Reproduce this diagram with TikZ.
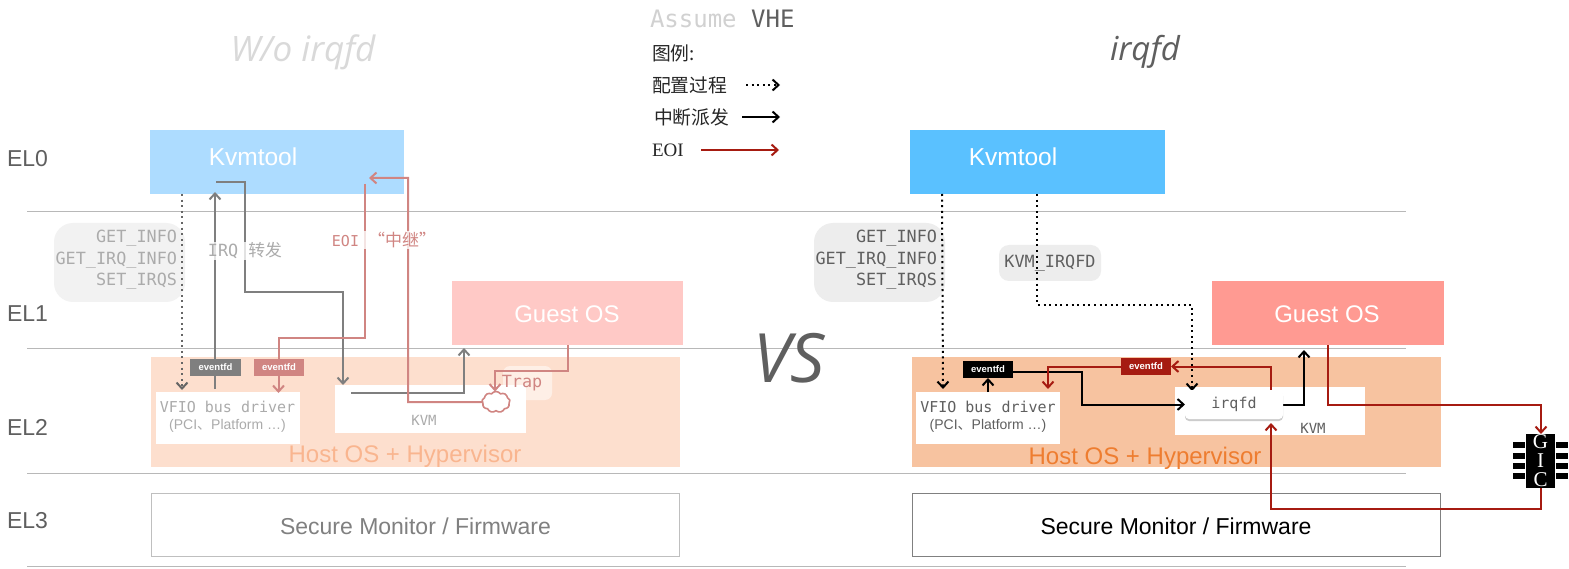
\documentclass[tikz,border=0pt]{standalone}
\usepackage{fontspec}
\setmainfont{Liberation Sans}
\setmonofont{DejaVu Sans Mono}
\newfontfamily\cjk{Noto Sans CJK SC}
\newfontfamily\serifl{Liberation Serif}
\newfontfamily\hand{Open Sans}
\usetikzlibrary{arrows.meta,calc,shapes.symbols,shadows}
\pgfdeclarelayer{back}
\pgfdeclarelayer{front}
\pgfsetlayers{back,main,front}
\newcommand{\szz}[1]{\fontsize{#1}{#1}\selectfont}
\definecolor{lgray}{HTML}{7F7F7F}
\definecolor{lred}{HTML}{D08582}
\definecolor{dred}{HTML}{A61B11}
\definecolor{txtdim}{HTML}{ABABAB}
\definecolor{txtdark}{HTML}{5F5F5F}
\tikzset{
  x=1pt,y=-1pt,
  every node/.style={inner sep=0pt,outer sep=0pt},
  hline/.style={draw=black!28,line width=0.9pt},
  barb/.style={-{Straight Barb[length=6pt,width=11pt,line width=2pt]}},
  flowgray/.style={draw=lgray,line width=2pt,barb},
  flowpink/.style={draw=lred,line width=2pt,barb},
  flowblack/.style={draw=black,line width=2pt,barb},
  flowred/.style={draw=dred,line width=2pt,barb},
  dotgray/.style={draw=black!60,line width=2pt,dash pattern=on 2pt off 3.6pt,barb},
  dotblack/.style={draw=black,line width=2pt,dash pattern=on 2pt off 3.6pt,barb},
  mono/.style={font=\ttfamily\szz{15}},
  monobig/.style={font=\ttfamily\szz{16.8}},
  patch/.style={fill=white,fill opacity=.78,text opacity=1,inner sep=1pt},
  evt/.style={minimum width=50pt,minimum height=17pt,text=white,font=\bfseries\szz{9.5}},
  pin/.style={fill=black,minimum width=12pt,minimum height=6pt},
  ellabel/.style={text=txtdark,font=\szz{23},anchor=west},
  apibubble/.style={rounded corners=19pt,minimum width=131pt,minimum height=79pt},
  apitext/.style={monobig,align=right,anchor=east},
  kvmtitle/.style={text=white,font=\szz{24.5}},
  boxtitle/.style={text=white,font=\szz{24}},
  hosttitle/.style={font=\szz{24}},
  sectitle/.style={font=\szz{23}},
  hostbox/.style={minimum width=529pt,minimum height=110pt},
  kvmtoolbox/.style={minimum width=254pt,minimum height=64pt},
  guestbox/.style={minimum width=231pt,minimum height=64pt},
  secbox/.style={minimum width=528pt,minimum height=63pt,line width=1pt},
  vfiobox/.style={fill=white,minimum width=144pt,minimum height=52pt,align=center},
  kvmwhite/.style={fill=white,minimum width=191pt,minimum height=48pt},
  legendtext/.style={font=\cjk\szz{18.8},anchor=west,text=black!85},
}
\begin{document}
\begin{tikzpicture}
\useasboundingbox (0,0) rectangle (1569,569);
\begin{pgfonlayer}{back}
  \fill[white] (0,0) rectangle (1569,569);
  \coordinate (a0) at (27,211);   \coordinate (b0) at (1405.5,211);
  \coordinate (a1) at (27,348.5); \coordinate (b1) at (1405.5,348.5);
  \coordinate (a2) at (27,473.5); \coordinate (b2) at (1405.5,473.5);
  \coordinate (a3) at (27,566.5); \coordinate (b3) at (1405.5,566.5);
  \draw[hline] (a0) -- (b0);
  \draw[hline] (a1) -- (b1);
  \draw[hline] (a2) -- (b2);
  \draw[hline] (a3) -- (b3);
  % API bubbles
  \node[apibubble,fill=black!5] (bubL) at (119.5,262.5) {};
  \node[apibubble,fill=black!7] (bubR) at (879.5,262.5) {};
  \node[fill=black!7,rounded corners=10pt,minimum width=102pt,minimum height=36pt] (bubQ) at (1050,263) {};
  % main boxes
  \node[kvmtoolbox,fill={rgb,255:red,173;green,220;blue,255}] (kvmL) at (277,162) {};
  \node[kvmtoolbox,fill={rgb,255:red,90;green,193;blue,255},minimum width=255pt] (kvmR) at (1037,162) {};
  \node[guestbox,fill={rgb,255:red,255;green,201;blue,198}] (guestL) at (567.5,313) {};
  \node[guestbox,fill={rgb,255:red,255;green,154;blue,146},minimum width=232pt] (guestR) at (1327.5,313) {};
  \node[hostbox,fill={rgb,255:red,253;green,223;blue,206}] (hostL) at (415.5,412) {};
  \node[hostbox,fill={rgb,255:red,247;green,195;blue,160}] (hostR) at (1176,412) {};
  \node[secbox,draw=black!25] (secL) at (415.5,524.5) {};
  \node[secbox,draw=black!50] (secR) at (1176,524.5) {};
  \node[vfiobox] (vfioL) at (227.5,418) {};
  \node[vfiobox] (vfioR) at (988,418) {};
  \node[kvmwhite] (kbL) at (430.5,409) {};
  \node[kvmwhite,minimum width=190pt] (kbR) at (1269.5,411) {};
  \node[fill=white,fill opacity=.5,text opacity=1,rounded corners=7pt,minimum width=49pt,minimum height=34pt] (trapb) at (527.5,383) {};
\end{pgfonlayer}

\begin{pgfonlayer}{front}
  % titles
  \node[font=\hand\itshape\szz{35},text=black!15] (t1) at (303,52) {W/o irqfd};
  \node[font=\hand\itshape\szz{33},text=txtdark] (t2) at (1145,52) {irqfd};
  \node[font=\hand\itshape\szz{68},text=txtdark] (t3) at (789,358) {VS};
  % EL labels
  \node[ellabel] (el0) at (7,159) {EL0};
  \node[ellabel] (el1) at (7,314) {EL1};
  \node[ellabel] (el2) at (7,427) {EL2};
  \node[ellabel] (el3) at (7,521) {EL3};
  % legend
  \node[anchor=west,font=\ttfamily\szz{24}] (leg0) at (650,19) {\textcolor{black!18}{Assume} \textcolor{txtdark}{VHE}};
  \node[legendtext] (leg1) at (652,53) {图例:};
  \node[legendtext] (leg2) at (652,85) {配置过程};
  \node[legendtext] (leg3) at (654,117) {中断派发};
  \node[anchor=west,font=\serifl\szz{19},text=black!85] (leg4) at (652,150) {EOI};
  \coordinate (leg2a) at (746,85); \coordinate (leg2b) at (780,85);
  \coordinate (leg3a) at (742,117); \coordinate (leg3b) at (780,117);
  \coordinate (leg4a) at (701,150); \coordinate (leg4b) at (779,150);
  % box titles
  \node[kvmtitle] (kvmLt) at (253,157) {Kvmtool};
  \node[kvmtitle] (kvmRt) at (1013,157) {Kvmtool};
  \node[boxtitle] (guestLt) at (567,314) {Guest OS};
  \node[boxtitle] (guestRt) at (1327,314) {Guest OS};
  \node[hosttitle,text={rgb,255:red,249;green,181;blue,143}] (hostLt) at (405,456) {Host OS + Hypervisor};
  \node[hosttitle,text={rgb,255:red,238;green,125;blue,48}] (hostRt) at (1145,458) {Host OS + Hypervisor};
  \node[sectitle,text=black!50] (secLt) at (415.5,526) {Secure Monitor / Firmware};
  \node[sectitle,text=black] (secRt) at (1176,526) {Secure Monitor / Firmware};
  % API text
  \node[apitext,text=txtdim] (apiL) at (177,260) {GET\_INFO\\[4.5pt]GET\_IRQ\_INFO\\[4.5pt]SET\_IRQS};
  \node[apitext,text=txtdark] (apiR) at (937,260) {GET\_INFO\\[4.5pt]GET\_IRQ\_INFO\\[4.5pt]SET\_IRQS};
  \node[monobig,text=txtdark] (qlab) at (1050,263.5) {KVM\_IRQFD};
  % box texts
  \node[align=center,text=txtdim] (vfioLt) at (227.5,417) {{\ttfamily\szz{15}VFIO bus driver}\\[5pt]{\szz{14}(PCI{\cjk 、}Platform …)}};
  \node[align=center,text=txtdark] (vfioRt) at (988,417) {{\ttfamily\szz{15}VFIO bus driver}\\[5pt]{\szz{14}(PCI{\cjk 、}Platform …)}};
  \node[font=\ttfamily\szz{14},text=txtdim] (kvmtL) at (424,420) {KVM};
  \node[font=\ttfamily\szz{14},text=txtdark] (kvmtR) at (1313,428) {KVM};
  \node[mono,fill=white,rounded corners=4pt,minimum width=98pt,minimum height=29pt,text=txtdark,drop shadow={shadow xshift=0pt,shadow yshift=-2pt,opacity=.4}] (irqfd) at (1234,404.5) {irqfd};
  \node[monobig,text=lred] (trapt) at (522,383) {Trap};
  % eventfd tags
  \node[evt,fill=lgray,minimum width=51pt] (evGL) at (215.5,367.5) {eventfd};
  \node[evt,fill=lred] (evPL) at (279,367.5) {eventfd};
  \node[evt,fill=black] (evK) at (988,369.5) {eventfd};
  \node[evt,fill=dred] (evD) at (1146,366.5) {eventfd};
  % trap cloud
  \node[cloud,cloud puffs=9,cloud puff arc=110,aspect=1.3,minimum width=28pt,minimum height=21pt,draw=lred,line width=1.6pt,fill=white] (cloudT) at (496,402) {};
  % patched labels
  \node[patch,monobig,text=txtdim] (irqlab) at (245,251) {IRQ {\cjk 转发}};
  \node[patch,mono,text=lred] (eoilab) at (384,240) {EOI {\cjk\szz{17}“中继”}};
  % GIC
  \node[fill=black,minimum width=29pt,minimum height=54pt,text=white,align=center,font=\serifl\szz{21}] (gic) at (1540.5,461) {G\\[-2pt]I\\[-2pt]C};
  \node[pin] (p1) at (1519,445) {}; \node[pin] (p2) at (1519,456) {};
  \node[pin] (p3) at (1519,466) {}; \node[pin] (p4) at (1519,476) {};
  \node[pin] (p5) at (1562,445) {}; \node[pin] (p6) at (1562,456) {};
  \node[pin] (p7) at (1562,466) {}; \node[pin] (p8) at (1562,476) {};
\end{pgfonlayer}

% ---- legend connectors
\draw[dotblack] (leg2a) -- (leg2b);
\draw[flowblack] (leg3a) -- (leg3b);
\draw[flowred] (leg4a) -- (leg4b);

% ---- left (without irqfd)
\draw[dotgray] ($(kvmL.south)+(-95,0)$) -- ($(vfioL.north)+(-45.5,-2)$);
\draw[flowgray] ($(vfioL.north)+(-12.5,-3)$) -- ($(kvmL.south)+(-62,-2)$);
\draw[flowgray] ($(kvmL)+(-61,20)$) -- (245,182) -- (245,292) -- (343,292) -- ($(kbL.north)+(-87.5,0)$);
\draw[flowgray] ($(kbL)+(-79.5,-16)$) -- (464,393) -- ($(guestL.south)+(-103.5,3)$);
\draw[flowpink] ($(kvmL)+(88,22)$) -- (365,338) -- (278.5,338) -- ($(vfioL.north)+(51,1)$);
\draw[flowpink] (cloudT.west) -- (408,402) -- (408,178) -- ($(kvmL)+(92,16)$);
\draw[flowpink] (guestL.south) -- (567.5,371) -- (495,371) -- ($(cloudT.north)+(-1,0)$);

% ---- right (with irqfd)
\draw[dotblack] ($(kvmR.south)+(-95,0)$) -- ($(vfioR.north)+(-45,-3)$);
\draw[dotblack] (kvmR.south) -- (1037,305) -- (1192,305) -- ($(irqfd.north)+(-42,1)$);
\draw[flowblack] (vfioR.north) -- (evK.south);
\draw[flowblack] ($(evK.east)+(0,2.5)$) -- (1081.5,372) -- (1081.5,404.5) -- (irqfd.west);
\draw[flowblack] (irqfd.east) -- (1304,404.5) -- ($(guestR.south)+(-23.5,5)$);
\draw[flowred] ($(irqfd.north)+(37,0)$) -- (1271,366.5) -- (evD.east);
\draw[flowred] (evD.west) -- (1048,366.5) -- ($(vfioR.north)+(60,-3)$);
\draw[flowred] (guestR.south) -- (1327.5,405) -- (1541,405) -- ($(gic.north)+(0.5,0)$);
\draw[flowred] (gic.south) -- (1540.5,509) -- (1271,509) -- ($(irqfd.south)+(37,4)$);
\end{tikzpicture}
\end{document}
